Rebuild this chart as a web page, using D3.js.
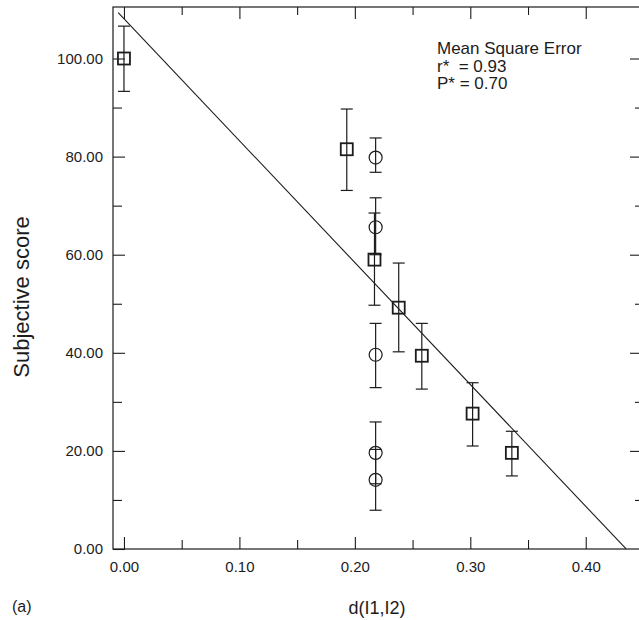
<!DOCTYPE html>
<html>
<head>
<meta charset="utf-8">
<script src="https://cdn.jsdelivr.net/npm/d3@7/dist/d3.min.js"></script>
<style>
  body { margin: 0; background: #fff; }
  svg { display: block; font-family: "Liberation Sans", Arial, sans-serif; }
</style>
</head>
<body>
<svg id="chart" width="639" height="620"></svg>
<script>
// ---- data ----
const squareX    = [0.000, 0.193, 0.217, 0.238, 0.258, 0.302, 0.336];
const squareY    = [100.0, 81.5, 59.0, 49.2, 39.4, 27.6, 19.6];
const squareLow  = [93.3, 73.1, 49.7, 40.2, 32.6, 21.0, 14.9];
const squareHigh = [106.6, 89.7, 68.5, 58.3, 46.0, 33.9, 24.0];

const circleX    = [0.218, 0.218, 0.218, 0.218, 0.218];
const circleY    = [79.8, 65.6, 39.6, 19.6, 14.1];
const circleLow  = [76.8, 60.0, 32.9, 13.3, 7.9];
const circleHigh = [83.8, 71.6, 46.0, 25.9, 20.3];

const fitIntercept = 108.1;
const fitSlope = -248.5;
const fitXRange = [-0.005, 0.435];

const xTicks = [0.0, 0.1, 0.2, 0.3, 0.4];
const xMinorTicks = [0.05, 0.15, 0.25, 0.35];
const yTicks = [0, 20, 40, 60, 80, 100];
const yMinorTicks = [10, 30, 50, 70, 90];

const annotation = ["Mean Square Error", "r*  = 0.93", "P* = 0.70"];

// ---- layout ----
(function () {
const svg = d3.select("#chart");
const pL = 113, pR = 640, pT = 7, pB = 549;
const x = d3.scaleLinear().domain([-0.0095, 0.447]).range([pL, pR]);
const y = d3.scaleLinear().domain([0, 110.5]).range([pB, pT]);
const ink = "#1c1c1c";
const fmt = d3.format(".2f");

// frame
svg.append("rect").attr("x", pL).attr("y", pT)
  .attr("width", pR - pL).attr("height", pB - pT)
  .attr("fill", "none").attr("stroke", ink).attr("stroke-width", 1.2);

function styleAxis(g) {
  g.select(".domain").remove();
  g.selectAll("line").attr("stroke", ink).attr("stroke-width", 1.1);
  g.selectAll("text").attr("fill", ink).style("font-size", "15px");
}

// bottom axis (ticks inward)
svg.append("g").attr("transform", `translate(0,${pB})`)
  .call(d3.axisBottom(x).tickValues(xTicks).tickFormat(fmt).tickSize(-12).tickPadding(12))
  .call(styleAxis);
svg.append("g").attr("transform", `translate(0,${pB})`)
  .call(d3.axisBottom(x).tickValues(xMinorTicks).tickFormat("").tickSize(-9))
  .call(styleAxis);
// top axis
svg.append("g").attr("transform", `translate(0,${pT})`)
  .call(d3.axisTop(x).tickValues(xTicks).tickFormat("").tickSize(-12))
  .call(styleAxis);
svg.append("g").attr("transform", `translate(0,${pT})`)
  .call(d3.axisTop(x).tickValues(xMinorTicks).tickFormat("").tickSize(-8))
  .call(styleAxis);
// left axis
svg.append("g").attr("transform", `translate(${pL},0)`)
  .call(d3.axisLeft(y).tickValues(yTicks).tickFormat(fmt).tickSize(-12).tickPadding(10))
  .call(styleAxis);
svg.append("g").attr("transform", `translate(${pL},0)`)
  .call(d3.axisLeft(y).tickValues(yMinorTicks).tickFormat("").tickSize(-9))
  .call(styleAxis);
// right axis
svg.append("g").attr("transform", `translate(${pR},0)`)
  .call(d3.axisRight(y).tickValues(yTicks.filter(v => v > 0)).tickFormat("").tickSize(-10))
  .call(styleAxis);
svg.append("g").attr("transform", `translate(${pR},0)`)
  .call(d3.axisRight(y).tickValues(yMinorTicks).tickFormat("").tickSize(-5))
  .call(styleAxis);

// fit line
svg.append("line")
  .attr("x1", x(fitXRange[0])).attr("y1", y(fitIntercept + fitSlope * fitXRange[0]))
  .attr("x2", x(fitXRange[1])).attr("y2", y(fitIntercept + fitSlope * fitXRange[1]))
  .attr("stroke", ink).attr("stroke-width", 1.1);

// error bars
function errorBars(xs, lo, hi, cls) {
  const data = xs.map((v, i) => ({x: v, lo: lo[i], hi: hi[i]}));
  const g = svg.append("g").attr("class", cls)
    .attr("stroke", ink).attr("stroke-width", 1.2);
  g.selectAll(".v").data(data).join("line").attr("class", "v")
    .attr("x1", d => x(d.x)).attr("x2", d => x(d.x))
    .attr("y1", d => y(d.lo)).attr("y2", d => y(d.hi));
  g.selectAll(".t").data(data).join("line").attr("class", "t")
    .attr("x1", d => x(d.x) - 6).attr("x2", d => x(d.x) + 6)
    .attr("y1", d => y(d.hi)).attr("y2", d => y(d.hi));
  g.selectAll(".b").data(data).join("line").attr("class", "b")
    .attr("x1", d => x(d.x) - 6).attr("x2", d => x(d.x) + 6)
    .attr("y1", d => y(d.lo)).attr("y2", d => y(d.lo));
}
errorBars(squareX, squareLow, squareHigh, "sqerr");
errorBars(circleX, circleLow, circleHigh, "cerr");

// squares
const sq = 12;
svg.append("g").selectAll("rect")
  .data(squareX.map((v, i) => ({x: v, y: squareY[i]})))
  .join("rect")
  .attr("x", d => x(d.x) - sq / 2).attr("y", d => y(d.y) - sq / 2)
  .attr("width", sq).attr("height", sq)
  .attr("fill", "none").attr("stroke", ink).attr("stroke-width", 1.8);

// circles
svg.append("g").selectAll("circle")
  .data(circleX.map((v, i) => ({x: v, y: circleY[i]})))
  .join("circle")
  .attr("cx", d => x(d.x)).attr("cy", d => y(d.y)).attr("r", 6.5)
  .attr("fill", "none").attr("stroke", ink).attr("stroke-width", 1.2);

// annotation
svg.append("g").selectAll("text").data(annotation).join("text")
  .attr("x", 437).attr("y", (d, i) => 54 + i * 17.5)
  .attr("fill", ink).style("font-size", "17px")
  .attr("xml:space", "preserve").style("white-space", "pre")
  .text(d => d);

// axis titles
svg.append("text").attr("x", 377).attr("y", 614).attr("text-anchor", "middle")
  .attr("fill", ink).style("font-size", "18px").text("d(I1,I2)");
svg.append("text").attr("transform", "translate(29,297) rotate(-90)")
  .attr("text-anchor", "middle").attr("fill", ink).style("font-size", "22px")
  .text("Subjective score");
svg.append("text").attr("x", 12).attr("y", 612)
  .attr("fill", ink).style("font-size", "16px").text("(a)");
})();
</script>
</body>
</html>
